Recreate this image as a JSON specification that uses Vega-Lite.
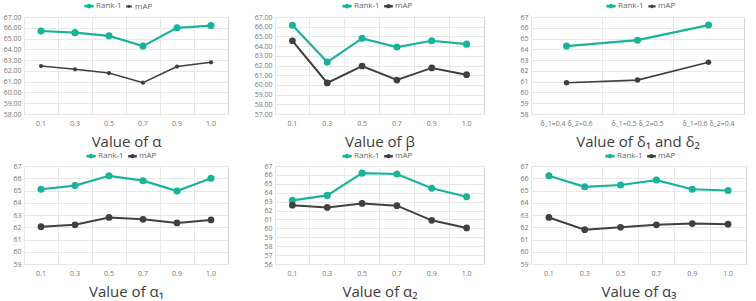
{
  "$schema": "https://vega.github.io/schema/vega-lite/v6.json",
  "padding": 0,
  "data": {
    "values": [
      {"p": "a", "x": "0.1", "s": "Rank-1", "v": 65.7},
      {"p": "a", "x": "0.3", "s": "Rank-1", "v": 65.55},
      {"p": "a", "x": "0.5", "s": "Rank-1", "v": 65.25},
      {"p": "a", "x": "0.7", "s": "Rank-1", "v": 64.3},
      {"p": "a", "x": "0.9", "s": "Rank-1", "v": 66.0},
      {"p": "a", "x": "1.0", "s": "Rank-1", "v": 66.2},
      {"p": "a", "x": "0.1", "s": "mAP", "v": 62.45},
      {"p": "a", "x": "0.3", "s": "mAP", "v": 62.15},
      {"p": "a", "x": "0.5", "s": "mAP", "v": 61.8},
      {"p": "a", "x": "0.7", "s": "mAP", "v": 60.9},
      {"p": "a", "x": "0.9", "s": "mAP", "v": 62.4},
      {"p": "a", "x": "1.0", "s": "mAP", "v": 62.8},

      {"p": "b", "x": "0.1", "s": "Rank-1", "v": 66.15},
      {"p": "b", "x": "0.3", "s": "Rank-1", "v": 62.35},
      {"p": "b", "x": "0.5", "s": "Rank-1", "v": 64.8},
      {"p": "b", "x": "0.7", "s": "Rank-1", "v": 63.9},
      {"p": "b", "x": "0.9", "s": "Rank-1", "v": 64.55},
      {"p": "b", "x": "1.0", "s": "Rank-1", "v": 64.2},
      {"p": "b", "x": "0.1", "s": "mAP", "v": 64.55},
      {"p": "b", "x": "0.3", "s": "mAP", "v": 60.2},
      {"p": "b", "x": "0.5", "s": "mAP", "v": 61.95},
      {"p": "b", "x": "0.7", "s": "mAP", "v": 60.5},
      {"p": "b", "x": "0.9", "s": "mAP", "v": 61.75},
      {"p": "b", "x": "1.0", "s": "mAP", "v": 61.05},

      {"p": "d", "x": "δ_1=0.4 δ_2=0.6", "s": "Rank-1", "v": 64.3},
      {"p": "d", "x": "δ_1=0.5 δ_2=0.5", "s": "Rank-1", "v": 64.85},
      {"p": "d", "x": "δ_1=0.6 δ_2=0.4", "s": "Rank-1", "v": 66.25},
      {"p": "d", "x": "δ_1=0.4 δ_2=0.6", "s": "mAP", "v": 60.9},
      {"p": "d", "x": "δ_1=0.5 δ_2=0.5", "s": "mAP", "v": 61.15},
      {"p": "d", "x": "δ_1=0.6 δ_2=0.4", "s": "mAP", "v": 62.8},

      {"p": "a1", "x": "0.1", "s": "Rank-1", "v": 65.1},
      {"p": "a1", "x": "0.3", "s": "Rank-1", "v": 65.4},
      {"p": "a1", "x": "0.5", "s": "Rank-1", "v": 66.2},
      {"p": "a1", "x": "0.7", "s": "Rank-1", "v": 65.8},
      {"p": "a1", "x": "0.9", "s": "Rank-1", "v": 64.95},
      {"p": "a1", "x": "1.0", "s": "Rank-1", "v": 66.0},
      {"p": "a1", "x": "0.1", "s": "mAP", "v": 62.05},
      {"p": "a1", "x": "0.3", "s": "mAP", "v": 62.2},
      {"p": "a1", "x": "0.5", "s": "mAP", "v": 62.8},
      {"p": "a1", "x": "0.7", "s": "mAP", "v": 62.65},
      {"p": "a1", "x": "0.9", "s": "mAP", "v": 62.35},
      {"p": "a1", "x": "1.0", "s": "mAP", "v": 62.6},

      {"p": "a2", "x": "0.1", "s": "Rank-1", "v": 63.15},
      {"p": "a2", "x": "0.3", "s": "Rank-1", "v": 63.7},
      {"p": "a2", "x": "0.5", "s": "Rank-1", "v": 66.2},
      {"p": "a2", "x": "0.7", "s": "Rank-1", "v": 66.1},
      {"p": "a2", "x": "0.9", "s": "Rank-1", "v": 64.5},
      {"p": "a2", "x": "1.0", "s": "Rank-1", "v": 63.55},
      {"p": "a2", "x": "0.1", "s": "mAP", "v": 62.6},
      {"p": "a2", "x": "0.3", "s": "mAP", "v": 62.35},
      {"p": "a2", "x": "0.5", "s": "mAP", "v": 62.8},
      {"p": "a2", "x": "0.7", "s": "mAP", "v": 62.55},
      {"p": "a2", "x": "0.9", "s": "mAP", "v": 60.9},
      {"p": "a2", "x": "1.0", "s": "mAP", "v": 60.05},

      {"p": "a3", "x": "0.1", "s": "Rank-1", "v": 66.2},
      {"p": "a3", "x": "0.3", "s": "Rank-1", "v": 65.3},
      {"p": "a3", "x": "0.5", "s": "Rank-1", "v": 65.45},
      {"p": "a3", "x": "0.7", "s": "Rank-1", "v": 65.85},
      {"p": "a3", "x": "0.9", "s": "Rank-1", "v": 65.1},
      {"p": "a3", "x": "1.0", "s": "Rank-1", "v": 65.0},
      {"p": "a3", "x": "0.1", "s": "mAP", "v": 62.8},
      {"p": "a3", "x": "0.3", "s": "mAP", "v": 61.8},
      {"p": "a3", "x": "0.5", "s": "mAP", "v": 62.0},
      {"p": "a3", "x": "0.7", "s": "mAP", "v": 62.2},
      {"p": "a3", "x": "0.9", "s": "mAP", "v": 62.3},
      {"p": "a3", "x": "1.0", "s": "mAP", "v": 62.25}
    ]
  },
  "columns": 1,
  "align": "none",
  "spacing": 0,
  "resolve": {"scale": {"color": "independent", "size": "independent", "strokeWidth": "independent", "x": "independent", "y": "independent"}, "legend": {"color": "independent"}},
  "concat": [
    {
      "hconcat": [
        {
          "width": 204, "height": 97,
          "transform": [{"filter": "datum.p === 'a'"}],
          "layer": [
            {
              "mark": {"type": "line"},
              "encoding": {
                "x": {"field": "x", "type": "nominal", "sort": null, "scale": {"type": "band", "paddingInner": 0, "paddingOuter": 0}, "axis": {"orient": "bottom", "grid": true, "bandPosition": 0, "labels": false, "title": null}},
                "y": {"field": "v", "type": "quantitative", "scale": {"domain": [58, 67], "nice": false, "zero": false}, "axis": {"values": [58, 59, 60, 61, 62, 63, 64, 65, 66, 67], "format": ".2f", "minExtent": 23, "maxExtent": 23}},
                "color": {"field": "s", "type": "nominal", "scale": {"domain": ["Rank-1", "mAP"], "range": ["#19b39b", "#404040"]}, "legend": {"title": null, "legendX": 60, "legendY": -16}},
                "strokeWidth": {"field": "s", "type": "nominal", "scale": {"domain": ["Rank-1", "mAP"], "range": [2.2, 1.5]}, "legend": null}
              }
            },
            {
              "mark": {"type": "point", "filled": true, "opacity": 1},
              "encoding": {
                "x": {"field": "x", "type": "nominal", "sort": null, "scale": {"type": "band", "paddingInner": 0, "paddingOuter": 0}, "axis": {"orient": "bottom", "grid": false, "labelAngle": 0, "title": "Value of α"}},
                "y": {"field": "v", "type": "quantitative", "scale": {"domain": [58, 67], "nice": false, "zero": false}, "axis": {"values": [58, 59, 60, 61, 62, 63, 64, 65, 66, 67], "format": ".2f", "minExtent": 23, "maxExtent": 23}},
                "color": {"field": "s", "type": "nominal", "scale": {"domain": ["Rank-1", "mAP"], "range": ["#19b39b", "#404040"]}, "legend": {"title": null, "legendX": 60, "legendY": -16}},
                "size": {"field": "s", "type": "nominal", "scale": {"domain": ["Rank-1", "mAP"], "range": [50, 18]}, "legend": null}
              }
            }
          ],
          "resolve": {"axis": {"x": "independent"}}
        },
        {
          "width": 209, "height": 97,
          "transform": [{"filter": "datum.p === 'b'"}],
          "layer": [
            {
              "mark": {"type": "line"},
              "encoding": {
                "x": {"field": "x", "type": "nominal", "sort": null, "scale": {"type": "band", "paddingInner": 0, "paddingOuter": 0}, "axis": {"orient": "bottom", "grid": true, "bandPosition": 0, "labels": false, "title": null}},
                "y": {"field": "v", "type": "quantitative", "scale": {"domain": [57, 67], "nice": false, "zero": false}, "axis": {"values": [57, 58, 59, 60, 61, 62, 63, 64, 65, 66, 67], "format": ".2f"}},
                "color": {"field": "s", "type": "nominal", "scale": {"domain": ["Rank-1", "mAP"], "range": ["#19b39b", "#404040"]}, "legend": {"title": null, "legendX": 67, "legendY": -16}},
                "strokeWidth": {"field": "s", "type": "nominal", "scale": {"domain": ["Rank-1", "mAP"], "range": [2.2, 2]}, "legend": null}
              }
            },
            {
              "mark": {"type": "point", "filled": true, "opacity": 1},
              "encoding": {
                "x": {"field": "x", "type": "nominal", "sort": null, "scale": {"type": "band", "paddingInner": 0, "paddingOuter": 0}, "axis": {"orient": "bottom", "grid": false, "labelAngle": 0, "title": "Value of β"}},
                "y": {"field": "v", "type": "quantitative", "scale": {"domain": [57, 67], "nice": false, "zero": false}, "axis": {"values": [57, 58, 59, 60, 61, 62, 63, 64, 65, 66, 67], "format": ".2f"}},
                "color": {"field": "s", "type": "nominal", "scale": {"domain": ["Rank-1", "mAP"], "range": ["#19b39b", "#404040"]}, "legend": {"title": null, "legendX": 67, "legendY": -16}},
                "size": {"field": "s", "type": "nominal", "scale": {"domain": ["Rank-1", "mAP"], "range": [50, 45]}, "legend": null}
              }
            }
          ],
          "resolve": {"axis": {"x": "independent"}}
        },
        {
          "width": 213, "height": 97,
          "transform": [{"filter": "datum.p === 'd'"}],
          "layer": [
            {
              "mark": {"type": "line"},
              "encoding": {
                "x": {"field": "x", "type": "nominal", "sort": null, "scale": {"type": "band", "paddingInner": 0, "paddingOuter": 0}, "axis": {"orient": "bottom", "grid": true, "bandPosition": 0, "labels": false, "title": null}},
                "y": {"field": "v", "type": "quantitative", "scale": {"domain": [58, 67], "nice": false, "zero": false}, "axis": {"values": [58, 59, 60, 61, 62, 63, 64, 65, 66, 67], "format": "d"}},
                "color": {"field": "s", "type": "nominal", "scale": {"domain": ["Rank-1", "mAP"], "range": ["#19b39b", "#404040"]}, "legend": {"title": null, "legendX": 75, "legendY": -16}},
                "strokeWidth": {"field": "s", "type": "nominal", "scale": {"domain": ["Rank-1", "mAP"], "range": [2.2, 1.7]}, "legend": null}
              }
            },
            {
              "mark": {"type": "point", "filled": true, "opacity": 1},
              "encoding": {
                "x": {"field": "x", "type": "nominal", "sort": null, "scale": {"type": "band", "paddingInner": 0, "paddingOuter": 0}, "axis": {"orient": "bottom", "grid": false, "labelAngle": 0, "title": "Value of δ₁ and δ₂"}},
                "y": {"field": "v", "type": "quantitative", "scale": {"domain": [58, 67], "nice": false, "zero": false}, "axis": {"values": [58, 59, 60, 61, 62, 63, 64, 65, 66, 67], "format": "d"}},
                "color": {"field": "s", "type": "nominal", "scale": {"domain": ["Rank-1", "mAP"], "range": ["#19b39b", "#404040"]}, "legend": {"title": null, "legendX": 75, "legendY": -16}},
                "size": {"field": "s", "type": "nominal", "scale": {"domain": ["Rank-1", "mAP"], "range": [50, 30]}, "legend": null}
              }
            }
          ],
          "resolve": {"axis": {"x": "independent"}}
        }
      ],
      "spacing": 47,
      "bounds": "flush",
      "resolve": {"scale": {"color": "independent", "size": "independent", "strokeWidth": "independent", "x": "independent", "y": "independent"}, "legend": {"color": "independent"}}
    },
    {
      "hconcat": [
        {
          "width": 204, "height": 98,
          "transform": [{"filter": "datum.p === 'a1'"}],
          "layer": [
            {
              "mark": {"type": "line"},
              "encoding": {
                "x": {"field": "x", "type": "nominal", "sort": null, "scale": {"type": "band", "paddingInner": 0, "paddingOuter": 0}, "axis": {"orient": "bottom", "grid": true, "bandPosition": 0, "labels": false, "title": null}},
                "y": {"field": "v", "type": "quantitative", "scale": {"domain": [59, 67], "nice": false, "zero": false}, "axis": {"values": [59, 60, 61, 62, 63, 64, 65, 66, 67], "format": "d", "minExtent": 13, "maxExtent": 13}},
                "color": {"field": "s", "type": "nominal", "scale": {"domain": ["Rank-1", "mAP"], "range": ["#19b39b", "#404040"]}, "legend": {"title": null, "legendX": 62, "legendY": -15}},
                "strokeWidth": {"field": "s", "type": "nominal", "scale": {"domain": ["Rank-1", "mAP"], "range": [2.2, 2]}, "legend": null}
              }
            },
            {
              "mark": {"type": "point", "filled": true, "opacity": 1},
              "encoding": {
                "x": {"field": "x", "type": "nominal", "sort": null, "scale": {"type": "band", "paddingInner": 0, "paddingOuter": 0}, "axis": {"orient": "bottom", "grid": false, "labelAngle": 0, "title": "Value of α₁"}},
                "y": {"field": "v", "type": "quantitative", "scale": {"domain": [59, 67], "nice": false, "zero": false}, "axis": {"values": [59, 60, 61, 62, 63, 64, 65, 66, 67], "format": "d", "minExtent": 13, "maxExtent": 13}},
                "color": {"field": "s", "type": "nominal", "scale": {"domain": ["Rank-1", "mAP"], "range": ["#19b39b", "#404040"]}, "legend": {"title": null, "legendX": 62, "legendY": -15}},
                "size": {"field": "s", "type": "nominal", "scale": {"domain": ["Rank-1", "mAP"], "range": [50, 45]}, "legend": null}
              }
            }
          ],
          "resolve": {"axis": {"x": "independent"}}
        },
        {
          "width": 209, "height": 98,
          "transform": [{"filter": "datum.p === 'a2'"}],
          "layer": [
            {
              "mark": {"type": "line"},
              "encoding": {
                "x": {"field": "x", "type": "nominal", "sort": null, "scale": {"type": "band", "paddingInner": 0, "paddingOuter": 0}, "axis": {"orient": "bottom", "grid": true, "bandPosition": 0, "labels": false, "title": null}},
                "y": {"field": "v", "type": "quantitative", "scale": {"domain": [56, 67], "nice": false, "zero": false}, "axis": {"values": [56, 57, 58, 59, 60, 61, 62, 63, 64, 65, 66, 67], "format": "d"}},
                "color": {"field": "s", "type": "nominal", "scale": {"domain": ["Rank-1", "mAP"], "range": ["#19b39b", "#404040"]}, "legend": {"title": null, "legendX": 67, "legendY": -15}},
                "strokeWidth": {"field": "s", "type": "nominal", "scale": {"domain": ["Rank-1", "mAP"], "range": [2.2, 2]}, "legend": null}
              }
            },
            {
              "mark": {"type": "point", "filled": true, "opacity": 1},
              "encoding": {
                "x": {"field": "x", "type": "nominal", "sort": null, "scale": {"type": "band", "paddingInner": 0, "paddingOuter": 0}, "axis": {"orient": "bottom", "grid": false, "labelAngle": 0, "title": "Value of α₂"}},
                "y": {"field": "v", "type": "quantitative", "scale": {"domain": [56, 67], "nice": false, "zero": false}, "axis": {"values": [56, 57, 58, 59, 60, 61, 62, 63, 64, 65, 66, 67], "format": "d"}},
                "color": {"field": "s", "type": "nominal", "scale": {"domain": ["Rank-1", "mAP"], "range": ["#19b39b", "#404040"]}, "legend": {"title": null, "legendX": 67, "legendY": -15}},
                "size": {"field": "s", "type": "nominal", "scale": {"domain": ["Rank-1", "mAP"], "range": [50, 45]}, "legend": null}
              }
            }
          ],
          "resolve": {"axis": {"x": "independent"}}
        },
        {
          "width": 215, "height": 98,
          "transform": [{"filter": "datum.p === 'a3'"}],
          "layer": [
            {
              "mark": {"type": "line"},
              "encoding": {
                "x": {"field": "x", "type": "nominal", "sort": null, "scale": {"type": "band", "paddingInner": 0, "paddingOuter": 0}, "axis": {"orient": "bottom", "grid": true, "bandPosition": 0, "labels": false, "title": null}},
                "y": {"field": "v", "type": "quantitative", "scale": {"domain": [59, 67], "nice": false, "zero": false}, "axis": {"values": [59, 60, 61, 62, 63, 64, 65, 66, 67], "format": "d"}},
                "color": {"field": "s", "type": "nominal", "scale": {"domain": ["Rank-1", "mAP"], "range": ["#19b39b", "#404040"]}, "legend": {"title": null, "legendX": 74, "legendY": -15}},
                "strokeWidth": {"field": "s", "type": "nominal", "scale": {"domain": ["Rank-1", "mAP"], "range": [2.2, 2]}, "legend": null}
              }
            },
            {
              "mark": {"type": "point", "filled": true, "opacity": 1},
              "encoding": {
                "x": {"field": "x", "type": "nominal", "sort": null, "scale": {"type": "band", "paddingInner": 0, "paddingOuter": 0}, "axis": {"orient": "bottom", "grid": false, "labelAngle": 0, "title": "Value of α₃"}},
                "y": {"field": "v", "type": "quantitative", "scale": {"domain": [59, 67], "nice": false, "zero": false}, "axis": {"values": [59, 60, 61, 62, 63, 64, 65, 66, 67], "format": "d"}},
                "color": {"field": "s", "type": "nominal", "scale": {"domain": ["Rank-1", "mAP"], "range": ["#19b39b", "#404040"]}, "legend": {"title": null, "legendX": 74, "legendY": -15}},
                "size": {"field": "s", "type": "nominal", "scale": {"domain": ["Rank-1", "mAP"], "range": [50, 45]}, "legend": null}
              }
            }
          ],
          "resolve": {"axis": {"x": "independent"}}
        }
      ],
      "spacing": 47,
      "bounds": "flush",
      "resolve": {"scale": {"color": "independent", "size": "independent", "strokeWidth": "independent", "x": "independent", "y": "independent"}, "legend": {"color": "independent"}}
    }
  ],
  "config": {
    "font": "Open Sans",
    "view": {"stroke": "#d6d6d6"},
    "axis": {"labelFontSize": 7, "labelColor": "#777777", "gridColor": "#e8e8e8", "domain": false, "ticks": false},
    "axisX": {"labelPadding": 5, "titleFontSize": 15, "titleFontWeight": "normal", "titleColor": "#404040", "titlePadding": 8},
    "axisY": {"labelPadding": 3, "title": null, "minExtent": 0},
    "legend": {
      "orient": "none",
      "direction": "horizontal",
      "labelFontSize": 8,
      "labelColor": "#666666",
      "symbolSize": 361,
      "symbolType": "M-1,-0.08H1V0.08H-1Z M0.35,0A0.35,0.35 0 1,1 -0.35,0A0.35,0.35 0 1,1 0.35,0Z",
      "symbolStrokeWidth": 0,
      "columnPadding": 1,
      "labelOffset": 2,
      "padding": 0
    }
  }
}
